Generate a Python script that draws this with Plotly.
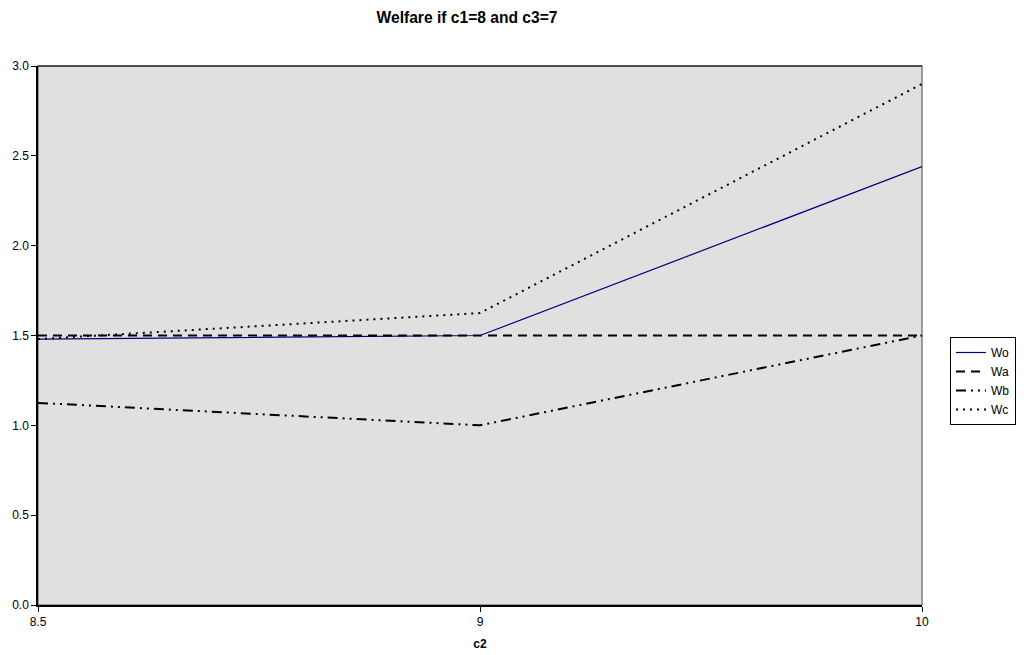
import plotly.graph_objects as go

categories = ["8.5", "9", "10"]
wo = [1.48, 1.5, 2.44]
wa = [1.5, 1.5, 1.5]
wb = [1.125, 1.0, 1.5]
wc = [1.48, 1.625, 2.9]
y_ticks = [0.0, 0.5, 1.0, 1.5, 2.0, 2.5, 3.0]

W, H = 1022, 647
L, R, T, B = 30, 108, 58, 50
PW, PH = W - L - R, H - T - B

fig = go.Figure()
fig.add_trace(go.Scatter(x=categories, y=wo, name="Wo", mode="lines",
                         line=dict(color="#000080", width=1.2)))
fig.add_trace(go.Scatter(x=categories, y=wa, name="Wa", mode="lines",
                         line=dict(color="black", width=2, dash="9px,6px")))
fig.add_trace(go.Scatter(x=categories, y=wb, name="Wb", mode="lines",
                         line=dict(color="black", width=2, dash="10px,5px,2px,5px,2px,5px")))
fig.add_trace(go.Scatter(x=categories, y=wc, name="Wc", mode="lines",
                         line=dict(color="black", width=2, dash="2px,5px")))

fig.update_layout(
    width=W, height=H,
    margin=dict(l=L, r=R, t=T, b=B, autoexpand=False),
    paper_bgcolor="white",
    plot_bgcolor="#e0e0e0",
    font=dict(family="Liberation Sans, Arial, sans-serif", size=12, color="black"),
    title=dict(text="<b>Welfare if c1=8 and c3=7</b>", x=459 / W, xanchor="center",
               y=1 - 10 / H, yanchor="middle", font=dict(size=15.6)),
    showlegend=True,
    legend=dict(x=(1008 - L) / PW, xanchor="right", y=(T + PH - 373) / PH, yanchor="middle",
                bordercolor="black", borderwidth=1, bgcolor="white",
                itemwidth=30, font=dict(size=12), tracegroupgap=0),
    xaxis=dict(type="category", range=[0, 2], showgrid=False, zeroline=False,
               automargin=False,
               showline=True, linecolor="black", linewidth=1.5,
               ticks="outside", ticklen=5, tickcolor="black",
               title=dict(text="<b>c2</b>", font=dict(size=12), standoff=11)),
    yaxis=dict(range=[0, 3], tickvals=y_ticks, tickformat=".1f", showgrid=False,
               automargin=False,
               zeroline=False, showline=True, linecolor="black", linewidth=1.5,
               ticks="outside", ticklen=5, tickcolor="black"),
)
fig.add_shape(type="rect", xref="paper", yref="paper", x0=0, y0=0, x1=1, y1=1,
              line=dict(color="#808080", width=1.5), layer="below")
fig.add_shape(type="line", xref="paper", yref="paper", x0=0, y0=1, x1=1, y1=1,
              line=dict(color="black", width=1.2), layer="below")

fig.write_html("out.html")
